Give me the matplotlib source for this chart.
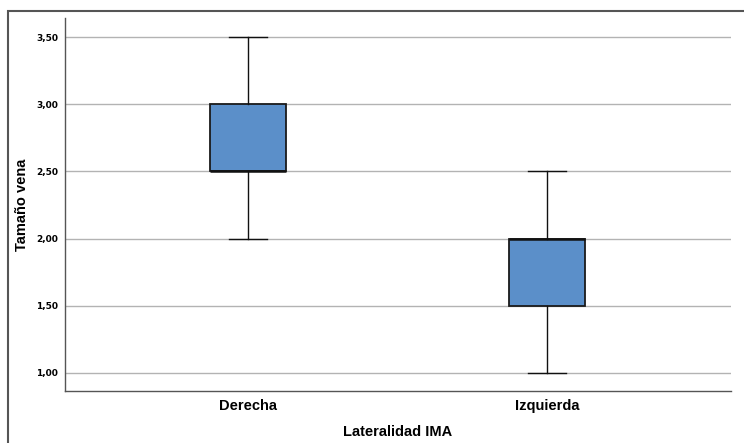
import matplotlib
matplotlib.use("Agg")
import matplotlib.pyplot as plt
from matplotlib.patches import Rectangle

plt.rcParams['font.family'] = ['Liberation Sans', 'DejaVu Sans']

# five-number summaries
groups = ['Derecha', 'Izquierda']
whislo = [2.0, 1.0]
q1 = [2.5, 1.5]
med = [2.5, 2.0]
q3 = [3.0, 2.0]
whishi = [3.5, 2.5]
yticks = [1.0, 1.5, 2.0, 2.5, 3.0, 3.5]

stats = []
for i, g in enumerate(groups):
    stats.append({'label': g, 'whislo': whislo[i], 'q1': q1[i], 'med': med[i],
                  'q3': q3[i], 'whishi': whishi[i], 'fliers': []})

fig = plt.figure(figsize=(7.44, 4.43), dpi=100)
ax = fig.add_axes([65/744, 1-391/443, (731-65)/744, (391-18)/443])

ax.bxp(stats, positions=[0, 1], widths=0.254, patch_artist=True, showfliers=False,
       boxprops=dict(facecolor='#5b8fc9', edgecolor='#1a1a1a', linewidth=1.3),
       medianprops=dict(color='#111111', linewidth=1.8),
       whiskerprops=dict(color='#111111', linewidth=1.0),
       capprops=dict(color='#111111', linewidth=1.0),
       capwidths=0.127, zorder=3)

ax.set_xlim(-0.612, 1.615)
ax.set_ylim(0.866, 3.642)
ax.set_yticks(yticks)
ax.set_yticklabels([f'{v:.2f}'.replace('.', ',') for v in yticks],
                   fontsize=6.5, fontweight='bold', family='DejaVu Sans')
ax.set_xticks([0, 1])
ax.set_xticklabels(groups, fontsize=10.5, fontweight='bold')
ax.tick_params(axis='y', length=0, pad=5)
ax.tick_params(axis='x', length=0, pad=6)
ax.yaxis.grid(True, color='#b3b3b3', linewidth=1.0, zorder=0)
ax.set_axisbelow(True)

for s in ['top', 'right']:
    ax.spines[s].set_visible(False)
for s in ['left', 'bottom']:
    ax.spines[s].set_color('#555555')
    ax.spines[s].set_linewidth(1.0)

ax.set_xlabel('Lateralidad IMA', fontsize=10.5, fontweight='bold')
ax.xaxis.set_label_coords(0.5, -(432 - 391) / 373, transform=ax.transAxes)
ax.set_ylabel('Tamaño vena', fontsize=10.5, fontweight='bold')
ax.yaxis.set_label_coords(-(65 - 22) / 666, 0.5)
ax.xaxis.label.set_va('center')
ax.yaxis.label.set_va('center')

# outer frame around the whole chart (runs off the right and bottom edges)
fig.patches.append(Rectangle((8/744, -0.1), 1.2, 1-11/443 + 0.1,
                             transform=fig.transFigure, fill=False,
                             edgecolor='#555555', linewidth=1.5))

fig.savefig('out.png', dpi=100)
